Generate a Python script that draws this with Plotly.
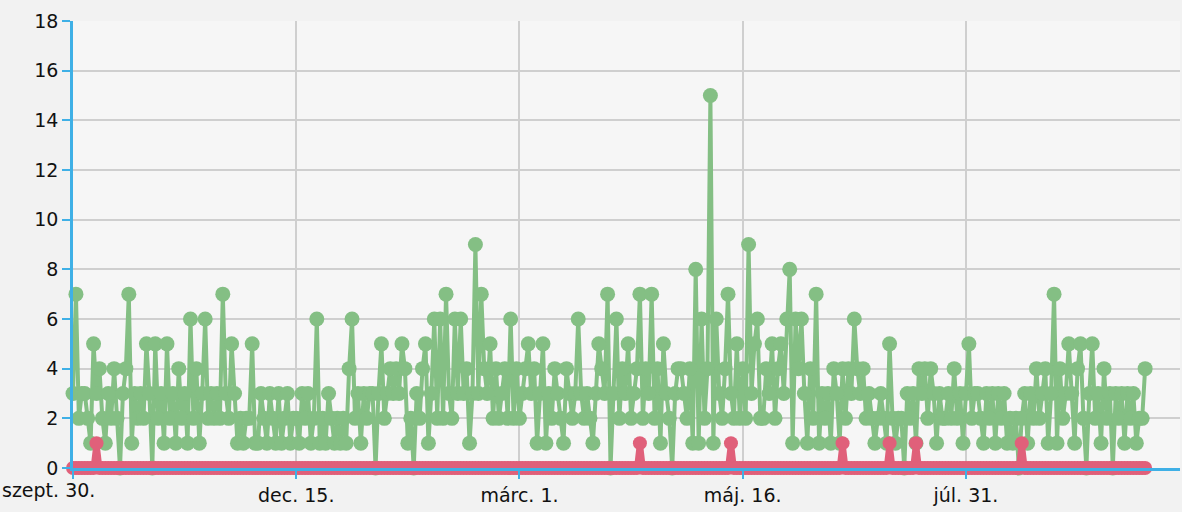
import plotly.graph_objects as go
import pandas as pd

start_date = "2012-09-30"
n_days = 366

green_values = [
    3, 7, 2, 3, 3, 2, 1, 5, 3, 4,
    2, 1, 3, 2, 4, 2, 0, 3, 4, 7,
    1, 3, 2, 3, 2, 5, 3, 0, 5, 2,
    3, 1, 5, 2, 3, 1, 4, 2, 3, 1,
    6, 2, 4, 1, 3, 6, 2, 3, 2, 3,
    2, 7, 3, 2, 5, 3, 1, 2, 1, 2,
    2, 5, 1, 1, 3, 2, 1, 3, 2, 1,
    3, 1, 2, 3, 1, 2, 2, 1, 3, 2,
    3, 1, 2, 6, 1, 2, 1, 3, 2, 1,
    2, 1, 2, 1, 4, 6, 2, 3, 1, 3,
    2, 3, 3, 0, 3, 5, 2, 3, 4, 3,
    4, 3, 5, 4, 1, 2, 0, 3, 2, 4,
    5, 1, 3, 6, 2, 6, 2, 7, 3, 2,
    6, 3, 6, 3, 4, 1, 3, 9, 3, 7,
    4, 3, 5, 2, 4, 2, 3, 4, 2, 6,
    2, 4, 2, 3, 4, 5, 3, 4, 1, 3,
    5, 1, 3, 2, 4, 3, 2, 1, 4, 3,
    2, 3, 6, 3, 2, 3, 2, 1, 3, 5,
    4, 3, 7, 0, 3, 6, 2, 4, 3, 5,
    2, 3, 4, 7, 2, 4, 3, 7, 2, 4,
    1, 5, 3, 2, 0, 3, 4, 4, 3, 2,
    4, 1, 8, 1, 6, 2, 4, 15, 1, 6,
    3, 2, 4, 7, 3, 2, 5, 2, 4, 2,
    9, 3, 5, 6, 2, 2, 4, 3, 5, 2,
    4, 5, 3, 6, 8, 1, 6, 4, 6, 3,
    1, 4, 2, 7, 1, 3, 2, 3, 1, 4,
    3, 1, 4, 2, 4, 3, 6, 4, 3, 4,
    2, 3, 2, 1, 2, 3, 2, 1, 5, 2,
    1, 2, 2, 0, 3, 2, 3, 1, 4, 3,
    4, 2, 4, 3, 1, 3, 2, 2, 3, 2,
    4, 2, 3, 1, 3, 5, 2, 3, 3, 2,
    1, 3, 2, 3, 1, 3, 2, 3, 1, 2,
    1, 2, 0, 2, 3, 1, 3, 2, 4, 2,
    3, 4, 1, 3, 7, 1, 4, 2, 3, 5,
    3, 1, 4, 5, 2, 0, 3, 5, 2, 3,
    1, 4, 2, 3, 0, 3, 2, 3, 1, 3,
    2, 3, 1, 2, 2, 4,
]

red_ones_days = [8, 193, 224, 262, 278, 287, 323]
red_values = [1 if d in red_ones_days else 0 for d in range(n_days)]

tick_dates = ["2012-09-30", "2012-12-15", "2013-03-01", "2013-05-16", "2013-07-31"]
tick_labels = ["szept. 30.", "dec. 15.", "márc. 1.", "máj. 16.", "júl. 31."]
y_ticks = [0, 2, 4, 6, 8, 10, 12, 14, 16, 18]

dates = pd.date_range(start_date, periods=n_days, freq="D")

green = "#84bf84"
red = "#e0607a"
blue = "#3fb0e6"
font_family = "DejaVu Sans"
fsize = 19

fig = go.Figure()
fig.add_trace(go.Scatter(
    x=dates, y=green_values[:n_days], mode="lines+markers",
    line=dict(color=green, width=4),
    marker=dict(color=green, size=15),
    cliponaxis=False, showlegend=False,
))
fig.add_trace(go.Scatter(
    x=dates, y=red_values, mode="lines+markers",
    line=dict(color=red, width=6),
    marker=dict(color=red, size=14),
    cliponaxis=False, showlegend=False,
))

fig.update_layout(
    width=1182, height=512,
    margin=dict(l=73, r=2, t=21, b=44, autoexpand=False),
    paper_bgcolor="#f2f2f2",
    plot_bgcolor="#f6f6f6",
    font=dict(family=font_family, size=fsize, color="#111111"),
    xaxis=dict(
        type="date",
        range=["2012-09-30", "2013-10-11 21:00"],
        tickmode="array",
        tickvals=tick_dates,
        ticktext=[""] + tick_labels[1:],
        showgrid=True, gridcolor="#cfcfcf", gridwidth=1.5,
        showline=True, linecolor=blue, linewidth=2.5,
        ticks="outside", tickcolor=blue, ticklen=8, tickwidth=2,
        zeroline=False, automargin=False,
        tickfont=dict(family=font_family, size=fsize, color="#111111"),
    ),
    yaxis=dict(
        range=[0, 18],
        tickmode="array",
        tickvals=y_ticks,
        showgrid=True, gridcolor="#cfcfcf", gridwidth=1.5,
        showline=True, linecolor=blue, linewidth=2.5,
        ticks="outside", tickcolor=blue, ticklen=8, tickwidth=2,
        zeroline=False, automargin=False,
        tickfont=dict(family=font_family, size=fsize, color="#111111"),
    ),
)

fig.add_annotation(
    x=-73 / 1107, y=0, xref="paper", yref="paper",
    text=tick_labels[0], showarrow=False,
    xanchor="left", yanchor="top", yshift=-9,
    font=dict(family=font_family, size=fsize, color="#111111"),
)

post = (
    "document.documentElement.style.margin='0';"
    "document.documentElement.style.overflow='hidden';"
    "document.body.style.margin='0';"
    "document.body.style.padding='0';"
    "document.body.style.overflow='hidden';"
    "document.body.style.background='#f2f2f2';"
    "Plotly.relayout('{plot_id}', {width: 1182, height: 512});"
)

fig.write_html("out.html", post_script=post, config={"displayModeBar": False})
